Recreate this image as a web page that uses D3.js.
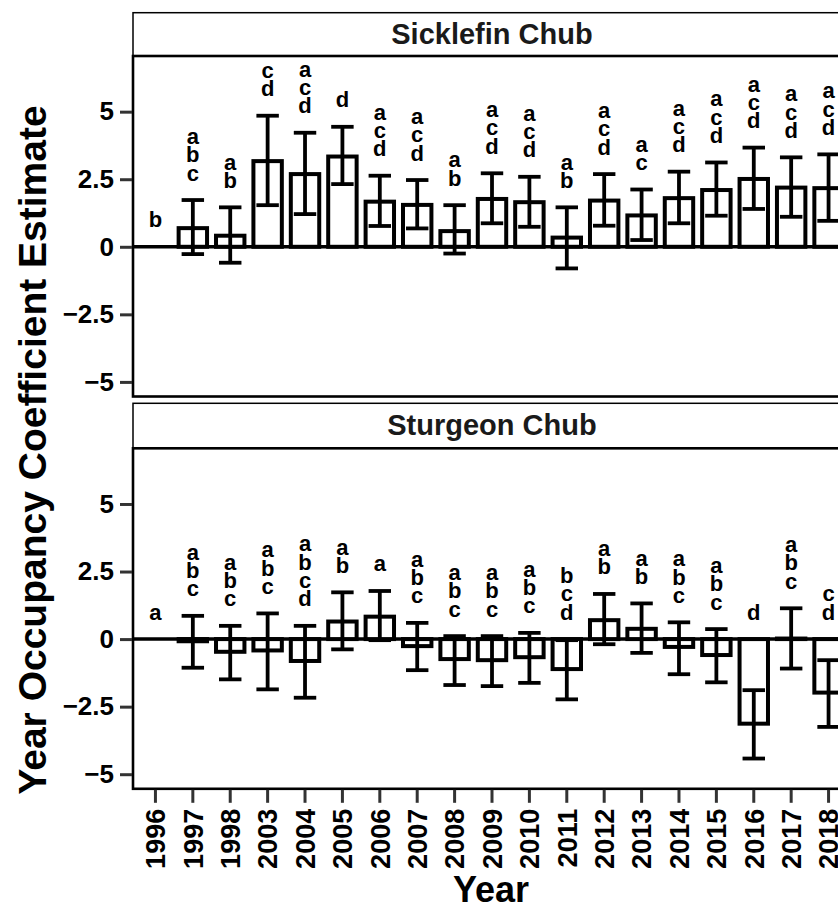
<!DOCTYPE html>
<html>
<head>
<meta charset="utf-8">
<script src="https://cdn.jsdelivr.net/npm/d3@7"></script>
<style>
  body { margin: 0; background: #fff; }
  text { font-family: "Liberation Sans", Arial, sans-serif; font-weight: bold; }
</style>
</head>
<body>
<div id="chart-area"></div>
<script>
// Year occupancy coefficients, two species facets

var years = ["1996", "1997", "1998", "2003", "2004", "2005", "2006", "2007", "2008",
    "2009", "2010", "2011", "2012", "2013", "2014", "2015", "2016", "2017", "2018"];

var species = ["Sicklefin Chub", "Sturgeon Chub"];

var sickEst = [0, 0.69, 0.41, 3.17, 2.69, 3.34, 1.67, 1.55, 0.58, 1.77, 1.65, 0.34, 1.71, 1.16, 1.80, 2.10, 2.51, 2.19, 2.17];
var sickLo  = [0, -0.27, -0.59, 1.54, 1.21, 2.32, 0.77, 0.68, -0.25, 0.87, 0.74, -0.80, 0.78, 0.25, 0.87, 1.15, 1.40, 1.11, 0.96];
var sickHi  = [0, 1.73, 1.46, 4.85, 4.22, 4.44, 2.63, 2.47, 1.54, 2.72, 2.59, 1.46, 2.69, 2.12, 2.78, 3.12, 3.67, 3.31, 3.42];
var sickLetters = ["b", "abc", "ab", "cd", "acd", "d", "acd", "acd", "ab", "acd", "acd", "ab", "acd", "ac", "acd", "acd", "acd", "acd", "acd"];

var sturEst = [0, -0.08, -0.47, -0.42, -0.81, 0.65, 0.83, -0.26, -0.74, -0.78, -0.67, -1.11, 0.70, 0.38, -0.29, -0.59, -3.13, 0.02, -1.98];
var sturLo  = [0, -1.06, -1.49, -1.86, -2.17, -0.38, -0.04, -1.15, -1.70, -1.74, -1.62, -2.23, -0.19, -0.51, -1.30, -1.60, -4.42, -1.09, -3.25];
var sturHi  = [0, 0.86, 0.49, 0.95, 0.49, 1.73, 1.78, 0.60, 0.11, 0.11, 0.23, -0.04, 1.67, 1.32, 0.62, 0.37, -1.89, 1.14, -0.78];
var sturLetters = ["a", "abc", "abc", "abc", "abcd", "ab", "a", "abc", "abc", "abc", "abc", "bcd", "ab", "ab", "abc", "abc", "d", "abc", "cd"];

var yTicks = [-5, -2.5, 0, 2.5, 5];
var yDomain = [-5.54, 7.06];

var width = 838, height = 908;
var left = 133, right = 851;
var panels = [
    {name: species[0], est: sickEst, lo: sickLo, hi: sickHi, letters: sickLetters, stripTop: 12.7, top: 56, bottom: 396.5},
    {name: species[1], est: sturEst, lo: sturLo, hi: sturHi, letters: sturLetters, stripTop: 403.3, top: 448.3, bottom: 788.8}
];

var svg = d3.select("#chart-area")
    .append("svg")
        .attr("width", width)
        .attr("height", height);

// Scale
var x = d3.scaleBand()
    .domain(years)
    .range([left, right])
    .paddingInner(0.24)
    .paddingOuter(0.22);

var capW = x.step() * 0.6;
var lineGap = 18.3;

panels.forEach(function(p, pi) {
    var y = d3.scaleLinear()
        .domain(yDomain)
        .range([p.bottom, p.top]);

    var rows = years.map(function(yr, i) {
        return {year: yr, est: p.est[i], lo: p.lo[i], hi: p.hi[i], letters: p.letters[i].split("")};
    });

    var g = svg.append("g");

    // strip
    g.append("rect")
        .attr("x", left)
        .attr("y", p.stripTop)
        .attr("width", right - left)
        .attr("height", p.top - p.stripTop)
        .attr("fill", "white")
        .attr("stroke", "black")
        .attr("stroke-width", 1.5);

    g.append("text")
        .attr("x", (left + right) / 2)
        .attr("y", p.stripTop + 31.5)
        .attr("text-anchor", "middle")
        .attr("font-size", "29px")
        .attr("fill", "#1a1a1a")
        .text(p.name);

    // zero line
    g.append("line")
        .attr("x1", left)
        .attr("x2", right)
        .attr("y1", y(0))
        .attr("y2", y(0))
        .attr("stroke", "black")
        .attr("stroke-width", 3.5);

    // bars
    g.selectAll(".bar")
        .data(rows)
        .enter()
        .append("rect")
            .attr("class", "bar")
            .attr("x", function(d) { return x(d.year); })
            .attr("width", x.bandwidth())
            .attr("y", function(d) { return y(Math.max(d.est, 0)); })
            .attr("height", function(d) { return Math.abs(y(d.est) - y(0)); })
            .attr("fill", "white")
            .attr("stroke", "black")
            .attr("stroke-width", 4);

    // error bars
    var eb = g.selectAll(".err")
        .data(rows.filter(function(d) { return d.hi !== d.lo; }))
        .enter()
        .append("g")
            .attr("class", "err")
            .attr("stroke", "black")
            .attr("stroke-width", 3.8);

    eb.append("line")
        .attr("x1", function(d) { return x(d.year) + x.bandwidth() / 2; })
        .attr("x2", function(d) { return x(d.year) + x.bandwidth() / 2; })
        .attr("y1", function(d) { return y(d.lo); })
        .attr("y2", function(d) { return y(d.hi); });

    eb.append("line")
        .attr("x1", function(d) { return x(d.year) + x.bandwidth() / 2 - capW / 2; })
        .attr("x2", function(d) { return x(d.year) + x.bandwidth() / 2 + capW / 2; })
        .attr("y1", function(d) { return y(d.hi); })
        .attr("y2", function(d) { return y(d.hi); });

    eb.append("line")
        .attr("x1", function(d) { return x(d.year) + x.bandwidth() / 2 - capW / 2; })
        .attr("x2", function(d) { return x(d.year) + x.bandwidth() / 2 + capW / 2; })
        .attr("y1", function(d) { return y(d.lo); })
        .attr("y2", function(d) { return y(d.lo); });

    // significance letters stacked above the upper cap
    var lab = g.selectAll(".letters")
        .data(rows)
        .enter()
        .append("text")
            .attr("class", "letters")
            .attr("text-anchor", "middle")
            .attr("font-size", "22px")
            .attr("fill", "#000");

    lab.selectAll("tspan")
        .data(function(d) {
            var base = y(Math.max(d.hi, 0)) - 19.5;
            var n = d.letters.length;
            return d.letters.map(function(l, i) {
                return {l: l, cx: x(d.year) + x.bandwidth() / 2, cy: base - (n - 1 - i) * lineGap};
            });
        })
        .enter()
        .append("tspan")
            .attr("x", function(d) { return d.cx; })
            .attr("y", function(d) { return d.cy; })
            .text(function(d) { return d.l; });

    // panel border
    g.append("rect")
        .attr("x", left)
        .attr("y", p.top)
        .attr("width", right - left)
        .attr("height", p.bottom - p.top)
        .attr("fill", "none")
        .attr("stroke", "black")
        .attr("stroke-width", 2.6);

    // y axis
    var yAxis = d3.axisLeft(y)
        .tickValues(yTicks)
        .tickSize(12)
        .tickPadding(6)
        .tickFormat(function(d) { return d === 0 ? "0" : d3.format("")(d).replace("-", "\u2212"); });
    var ya = g.append("g")
        .attr("class", "y axis")
        .attr("transform", "translate(" + (left - 1) + ",0)")
        .call(yAxis);
    ya.select(".domain").remove();
    ya.selectAll(".tick line").attr("stroke", "#333").attr("stroke-width", 3);
    ya.selectAll(".tick text")
        .attr("font-size", "26px")
        .attr("fill", "#000")
        .attr("font-family", "Liberation Sans, Arial, sans-serif")
        .attr("font-weight", "bold");

    // x axis on the bottom panel only
    if (pi === 1) {
        var xAxis = d3.axisBottom(x).tickSize(13).tickPadding(6);
        var xa = g.append("g")
            .attr("class", "x axis")
            .attr("transform", "translate(0," + (p.bottom + 1) + ")")
            .call(xAxis);
        xa.select(".domain").remove();
        xa.selectAll(".tick line").attr("stroke", "#333").attr("stroke-width", 3);
        xa.selectAll(".tick text")
            .attr("font-size", "27px")
            .attr("fill", "#000")
            .attr("font-family", "Liberation Sans, Arial, sans-serif")
            .attr("font-weight", "bold")
            .attr("text-anchor", "end")
            .attr("transform", "rotate(-90)")
            .attr("x", -19)
            .attr("y", 0)
            .attr("dy", "0.36em");
    }
});

// Axis labels
svg.append("text")
    .attr("x", 491)
    .attr("y", 902)
    .attr("text-anchor", "middle")
    .attr("font-size", "36px")
    .text("Year");

svg.append("text")
    .attr("transform", "translate(46,450) rotate(-90)")
    .attr("text-anchor", "middle")
    .attr("font-size", "39px")
    .text("Year Occupancy Coefficient Estimate");
</script>
</body>
</html>
